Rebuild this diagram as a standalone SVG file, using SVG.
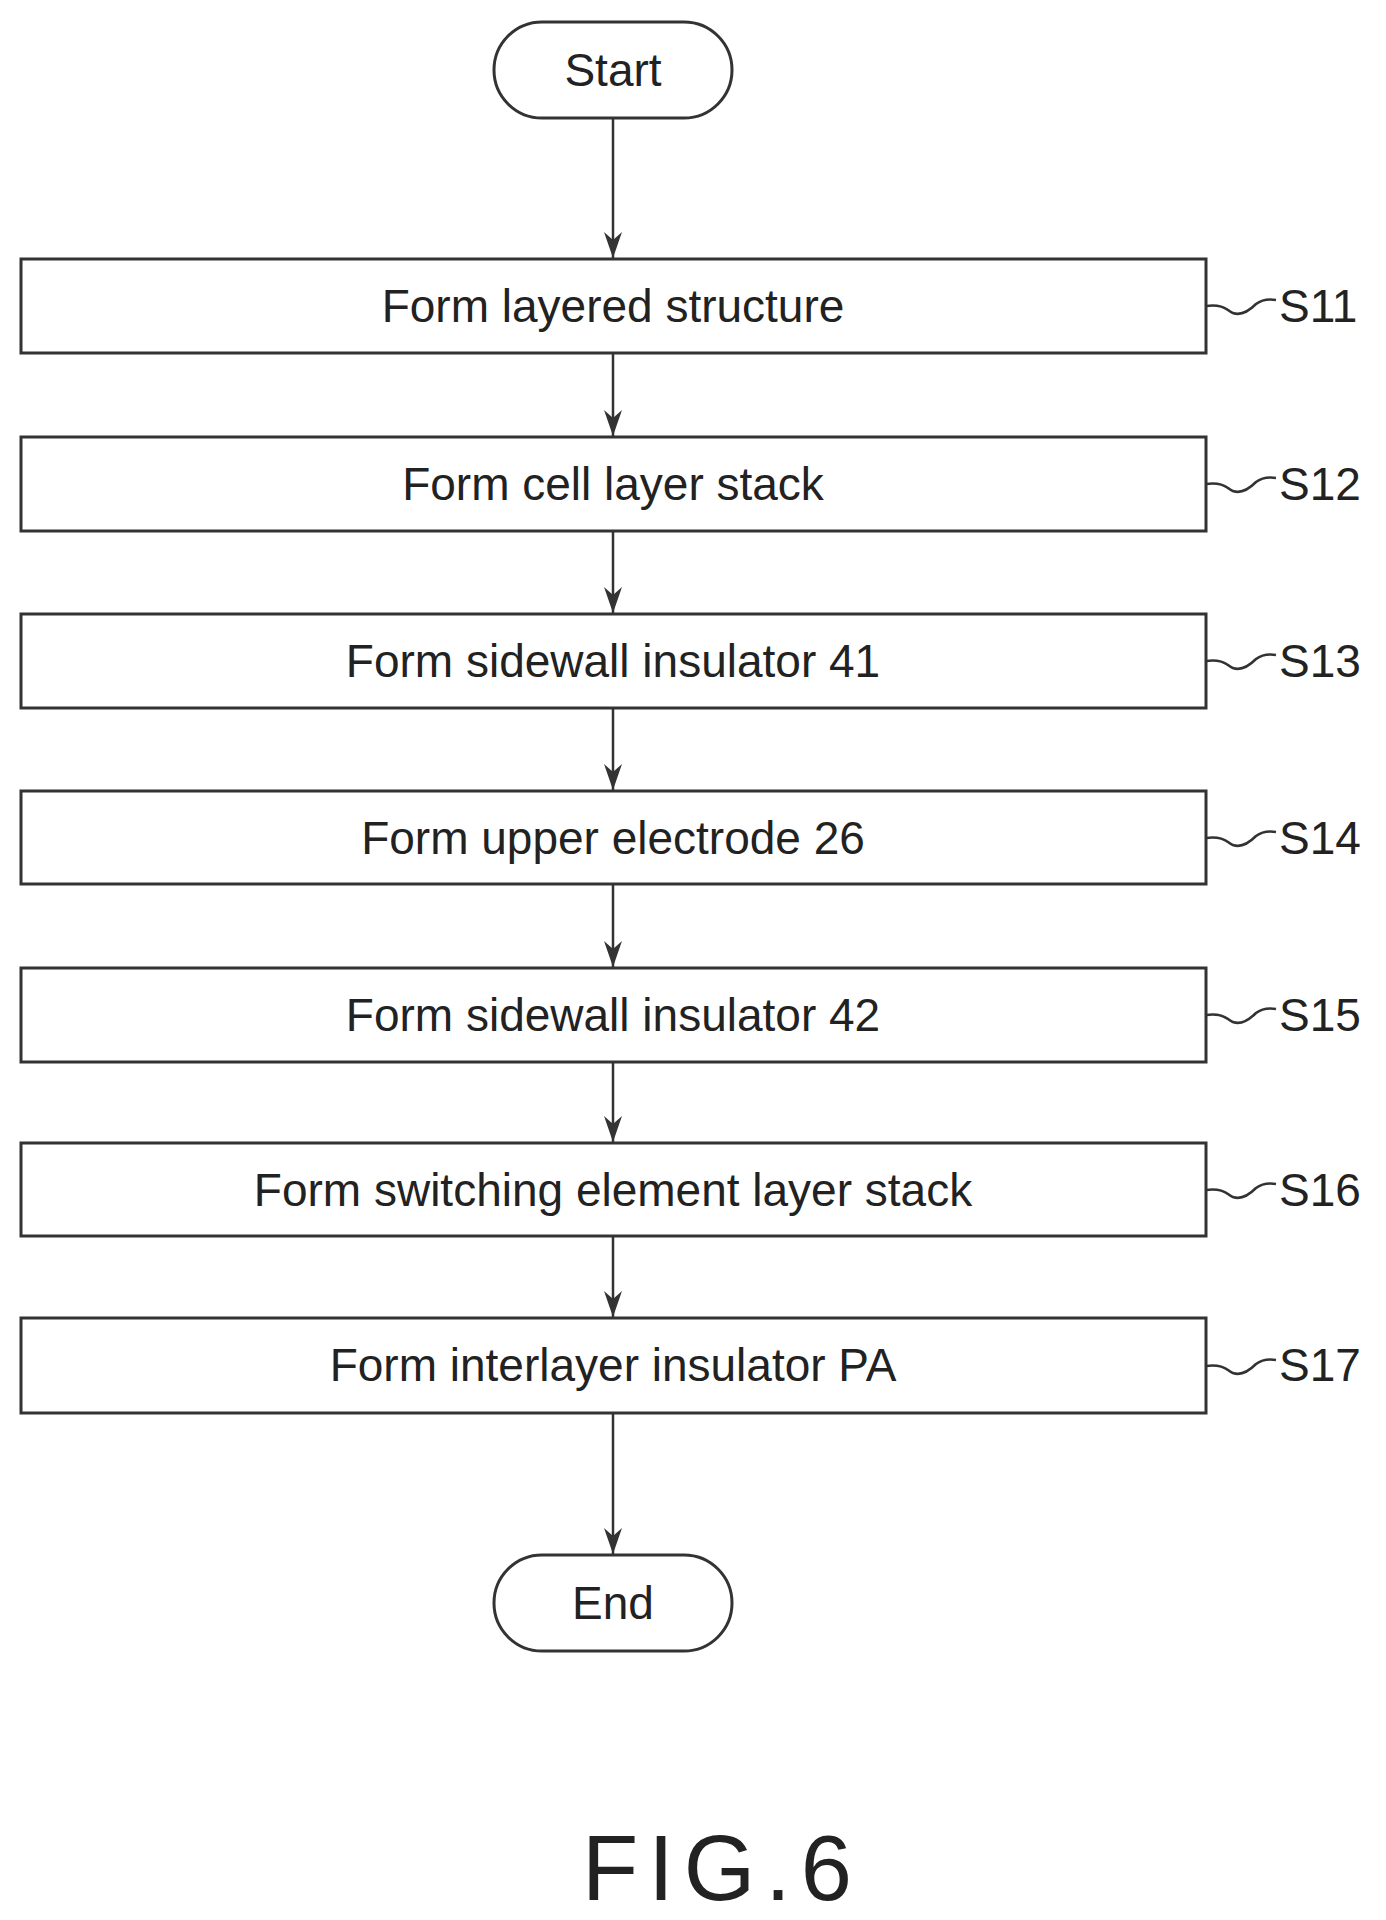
<svg xmlns="http://www.w3.org/2000/svg" width="1386" height="1920" viewBox="0 0 1386 1920">
<style>
.b{fill:#fff;stroke:#333;stroke-width:3}
.t{font-family:"Liberation Sans",Arial,sans-serif;font-size:46px;fill:#222;text-anchor:middle}
.l{font-family:"Liberation Sans",Arial,sans-serif;font-size:46px;fill:#222}
.c{stroke:#333;stroke-width:2.5;fill:none}
</style>
<defs><marker id="a" markerWidth="26" markerHeight="18" refX="26" refY="9" orient="auto" markerUnits="userSpaceOnUse" viewBox="0 0 26 18"><path d="M0,0 L26,9 L0,18 L8,9 Z" fill="#333"/></marker></defs>
<rect width="1386" height="1920" fill="#fff"/>
<g id="connectors">
<line class="c" x1="613" y1="118" x2="613" y2="258" marker-end="url(#a)"/>
<line class="c" x1="613" y1="353" x2="613" y2="436" marker-end="url(#a)"/>
<line class="c" x1="613" y1="531" x2="613" y2="613" marker-end="url(#a)"/>
<line class="c" x1="613" y1="708" x2="613" y2="790" marker-end="url(#a)"/>
<line class="c" x1="613" y1="884" x2="613" y2="967" marker-end="url(#a)"/>
<line class="c" x1="613" y1="1062" x2="613" y2="1142" marker-end="url(#a)"/>
<line class="c" x1="613" y1="1236" x2="613" y2="1317" marker-end="url(#a)"/>
<line class="c" x1="613" y1="1413" x2="613" y2="1554" marker-end="url(#a)"/>
</g>
<g id="start"><rect class="b" x="494" y="22" width="238" height="96" rx="48"/><text class="t" x="613" y="86">Start</text></g>
<g id="s11"><rect class="b" x="21" y="259" width="1185" height="94"/><text class="t" x="613" y="322">Form layered structure</text><path class="c" d="M1206,306 q14,-2 22,4 q12,10 28,-6 q8,-6 20,-4"/><text class="l" x="1279" y="322">S11</text></g>
<g id="s12"><rect class="b" x="21" y="437" width="1185" height="94"/><text class="t" x="613" y="500">Form cell layer stack</text><path class="c" d="M1206,484 q14,-2 22,4 q12,10 28,-6 q8,-6 20,-4"/><text class="l" x="1279" y="500">S12</text></g>
<g id="s13"><rect class="b" x="21" y="614" width="1185" height="94"/><text class="t" x="613" y="677">Form sidewall insulator 41</text><path class="c" d="M1206,661 q14,-2 22,4 q12,10 28,-6 q8,-6 20,-4"/><text class="l" x="1279" y="677">S13</text></g>
<g id="s14"><rect class="b" x="21" y="791" width="1185" height="93"/><text class="t" x="613" y="854">Form upper electrode 26</text><path class="c" d="M1206,838 q14,-2 22,4 q12,10 28,-6 q8,-6 20,-4"/><text class="l" x="1279" y="854">S14</text></g>
<g id="s15"><rect class="b" x="21" y="968" width="1185" height="94"/><text class="t" x="613" y="1031">Form sidewall insulator 42</text><path class="c" d="M1206,1015 q14,-2 22,4 q12,10 28,-6 q8,-6 20,-4"/><text class="l" x="1279" y="1031">S15</text></g>
<g id="s16"><rect class="b" x="21" y="1143" width="1185" height="93"/><text class="t" x="613" y="1206">Form switching element layer stack</text><path class="c" d="M1206,1190 q14,-2 22,4 q12,10 28,-6 q8,-6 20,-4"/><text class="l" x="1279" y="1206">S16</text></g>
<g id="s17"><rect class="b" x="21" y="1318" width="1185" height="95"/><text class="t" x="613" y="1381">Form interlayer insulator PA</text><path class="c" d="M1206,1366 q14,-2 22,4 q12,10 28,-6 q8,-6 20,-4"/><text class="l" x="1279" y="1381">S17</text></g>
<g id="end"><rect class="b" x="494" y="1555" width="238" height="96" rx="48"/><text class="t" x="613" y="1619">End</text></g>
<text x="722" y="1900" font-family="Liberation Sans,Arial,sans-serif" font-size="92" fill="#222" text-anchor="middle" letter-spacing="10">FIG.6</text>
</svg>
